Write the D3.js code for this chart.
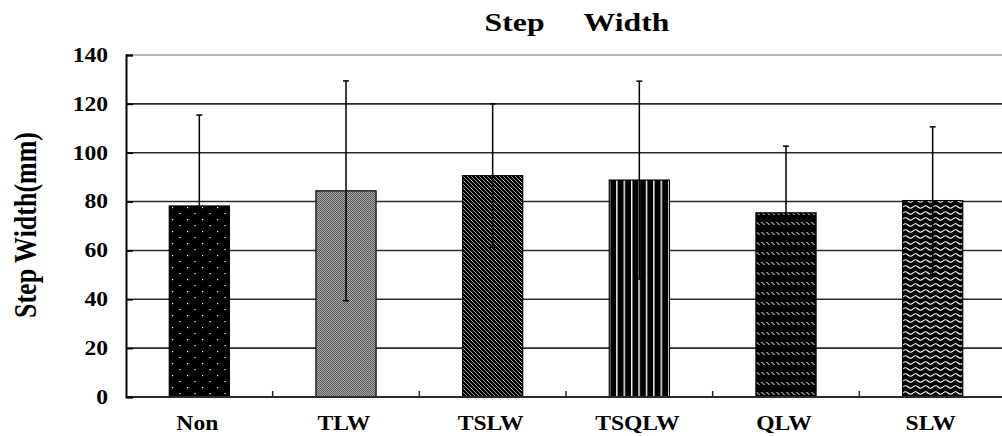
<!DOCTYPE html>
<html>
<head>
<meta charset="utf-8">
<script src="https://cdn.jsdelivr.net/npm/d3@7"></script>
<style>
  body { margin: 0; background: #fff; }
  svg { display: block; }
  text { font-family: "Liberation Serif", "Times New Roman", serif; font-weight: bold; fill: #000; }
</style>
</head>
<body>
<script>
// data
var categories = ["Non", "TLW", "TSLW", "TSQLW", "QLW", "SLW"];
var means = [78.2, 84.4, 90.6, 88.8, 75.4, 80.4];
var sds = [37.2, 45, 29.4, 40.5, 27.3, 30.2];
var yTicks = [0, 20, 40, 60, 80, 100, 120, 140];

var W = 1002, H = 436;
var plot = {left: 126, right: 1006, top: 55, bottom: 397};
var stretch = 1.18; // text in the picture is wider than tall

var svg = d3.select("body").append("svg")
    .attr("width", W)
    .attr("height", H);

// scales
var x = d3.scaleBand()
    .domain(categories)
    .range([plot.left, plot.right])
    .paddingInner(0.59)
    .paddingOuter(0.295);
var y = d3.scaleLinear().domain([0, 140]).range([plot.bottom, plot.top]);

var data = categories.map(function(c, i) {
  return {name: c, mean: means[i], sd: sds[i], i: i};
});

// fill patterns, one per bar, anchored on the bar
var defs = svg.append("defs");
function makePattern(d) {
  var bx = Math.round(x(d.name)), bw = x.bandwidth();
  var p = defs.append("pattern")
      .attr("id", "pat" + d.i)
      .attr("patternUnits", "userSpaceOnUse")
      .attr("y", 0);
  if (d.i === 0) {
    // black with staggered white dots
    p.attr("x", bx).attr("width", 15).attr("height", 12);
    p.append("rect").attr("width", 15).attr("height", 12).attr("fill", "#000");
    p.append("rect").attr("x", 3).attr("y", 3).attr("width", 1.2).attr("height", 1.2).attr("fill", "#fff");
    p.append("rect").attr("x", 10.5).attr("y", 9).attr("width", 1.2).attr("height", 1.2).attr("fill", "#fff");
  } else if (d.i === 1) {
    // fine checker, reads as grey
    p.attr("x", bx).attr("width", 2).attr("height", 2);
    p.append("rect").attr("width", 2).attr("height", 2).attr("fill", "#a8a8a8");
    p.append("rect").attr("width", 1).attr("height", 1).attr("fill", "#5a5a5a");
    p.append("rect").attr("x", 1).attr("y", 1).attr("width", 1).attr("height", 1).attr("fill", "#5a5a5a");
  } else if (d.i === 2) {
    // diagonal white hairlines on black
    p.attr("x", bx).attr("width", 4).attr("height", 4);
    p.append("rect").attr("width", 4).attr("height", 4).attr("fill", "#000");
    p.append("path").attr("d", "M-1,-1L5,5M-1,3L1,5M3,-1L5,1")
        .attr("stroke", "#fff").attr("stroke-width", 0.65);
  } else if (d.i === 3) {
    // vertical white lines on black
    p.attr("x", bx + bw / 2 - 0.7).attr("width", 7.4).attr("height", 10);
    p.append("rect").attr("width", 7.4).attr("height", 10).attr("fill", "#000");
    p.append("rect").attr("width", 1.4).attr("height", 10).attr("fill", "#fff");
  } else if (d.i === 4) {
    // rows of small white dashes
    p.attr("x", bx).attr("width", 5).attr("height", 10);
    p.append("rect").attr("width", 5).attr("height", 10).attr("fill", "#000");
    [[0.5, 2], [1.5, 3], [2.5, 4]].forEach(function(q) {
      p.append("rect").attr("x", q[0]).attr("y", q[1]).attr("width", 1).attr("height", 1).attr("fill", "#fff");
    });
  } else {
    // white waves on black
    p.attr("x", bx).attr("width", 10).attr("height", 6);
    p.append("rect").attr("width", 10).attr("height", 6).attr("fill", "#000");
    p.append("path").attr("d", "M0,3Q2.5,0.5 5,3T10,3")
        .attr("fill", "none").attr("stroke", "#fff").attr("stroke-width", 1.1);
  }
}
data.forEach(makePattern);

// gridlines
svg.append("g").selectAll("line")
    .data(yTicks.filter(function(t) { return t > 0; }))
  .enter().append("line")
    .attr("x1", plot.left).attr("x2", plot.right)
    .attr("y1", function(t) { return y(t); })
    .attr("y2", function(t) { return y(t); })
    .attr("stroke", function(t) { return t === 140 ? "#a0a0a0" : "#2a2a2a"; })
    .attr("stroke-width", 1.6);

// bars
svg.append("g").selectAll("rect")
    .data(data)
  .enter().append("rect")
    .attr("x", function(d) { return x(d.name); })
    .attr("y", function(d) { return y(d.mean); })
    .attr("width", x.bandwidth())
    .attr("height", function(d) { return y(0) - y(d.mean); })
    .attr("fill", function(d) { return "url(#pat" + d.i + ")"; })
    .attr("stroke", "#000")
    .attr("stroke-width", 1.2);

// error bars
var eb = svg.append("g").selectAll("g")
    .data(data)
  .enter().append("g")
    .attr("stroke", "#000")
    .attr("stroke-width", 1.5);
function cx(d) { return x(d.name) + x.bandwidth() / 2; }
eb.append("line")
    .attr("x1", cx).attr("x2", cx)
    .attr("y1", function(d) { return y(d.mean + d.sd); })
    .attr("y2", function(d) { return y(d.mean - d.sd); });
eb.append("line")
    .attr("x1", function(d) { return cx(d) - 3; })
    .attr("x2", function(d) { return cx(d) + 3; })
    .attr("y1", function(d) { return y(d.mean + d.sd); })
    .attr("y2", function(d) { return y(d.mean + d.sd); });
eb.append("line")
    .attr("x1", function(d) { return cx(d) - 3; })
    .attr("x2", function(d) { return cx(d) + 3; })
    .attr("y1", function(d) { return y(d.mean - d.sd); })
    .attr("y2", function(d) { return y(d.mean - d.sd); });

// x axis line and boundary ticks
svg.append("line")
    .attr("x1", plot.left).attr("x2", plot.right)
    .attr("y1", y(0)).attr("y2", y(0))
    .attr("stroke", "#2a2a2a").attr("stroke-width", 2);
svg.append("g").selectAll("line")
    .data(categories.slice(1))
  .enter().append("line")
    .attr("x1", function(c) { return x(c) - x.step() * x.paddingInner() / 2; })
    .attr("x2", function(c) { return x(c) - x.step() * x.paddingInner() / 2; })
    .attr("y1", y(0)).attr("y2", y(0) - 6)
    .attr("stroke", "#2a2a2a").attr("stroke-width", 1.5);

// x labels
svg.append("g").selectAll("text")
    .data(categories)
  .enter().append("text")
    .attr("transform", function(c) {
      return "translate(" + (x(c) + x.bandwidth() / 2 - 2) + ",430) scale(" + stretch + ",1)";
    })
    .attr("text-anchor", "middle")
    .style("font-size", "20px")
    .text(function(c) { return c; });

// y axis
var yAxis = svg.append("g")
    .attr("transform", "translate(" + plot.left + ",0)")
    .call(d3.axisLeft(y).tickValues(yTicks).tickSize(-7).tickPadding(18 / stretch));
yAxis.select(".domain").attr("stroke", "#000").attr("stroke-width", 2);
yAxis.selectAll(".tick line").attr("stroke", "#000").attr("stroke-width", 1.6);
yAxis.selectAll(".tick text")
    .attr("transform", "scale(" + stretch + ",1)")
    .attr("fill", "#000")
    .style("font-size", "20px")
    .style("font-family", "'Liberation Serif', 'Times New Roman', serif")
    .style("font-weight", "bold");

// title
svg.append("text")
    .attr("transform", "translate(577,31) scale(1.22,1)")
    .attr("text-anchor", "middle")
    .style("font-size", "26px")
    .style("white-space", "pre")
    .text("Step     Width");

// y label
svg.append("text")
    .attr("transform", "translate(36,225) scale(" + stretch + ",1) rotate(-90)")
    .attr("text-anchor", "middle")
    .style("font-size", "26px")
    .text("Step Width(mm)");
</script>
</body>
</html>
